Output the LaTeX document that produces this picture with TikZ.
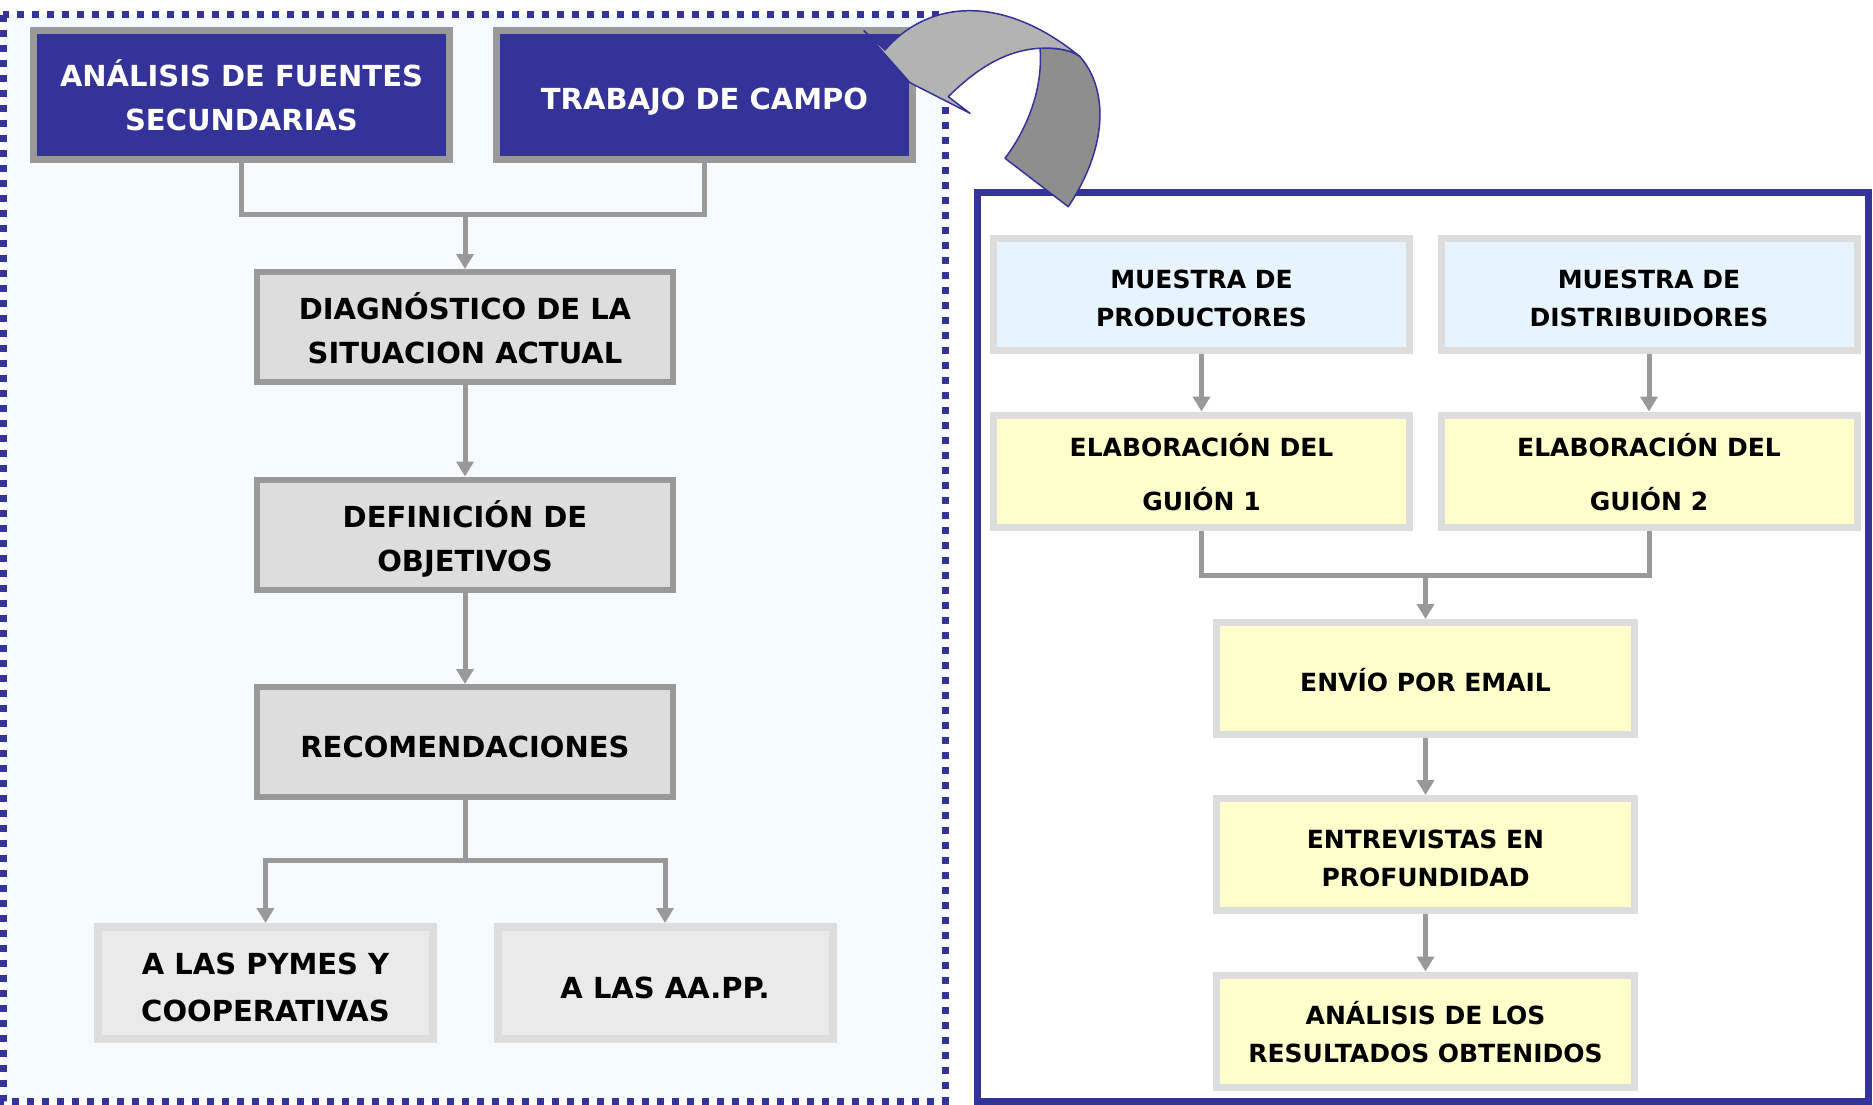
\documentclass[tikz,border=0pt]{standalone}
\usepackage{fontspec}
\setmainfont{DejaVu Sans}
\usetikzlibrary{arrows.meta}

\definecolor{navy}{HTML}{333399}
\definecolor{boxgrey}{HTML}{999999}
\definecolor{pale}{HTML}{DDDDDD}
\definecolor{paler}{HTML}{EAEAEA}
\definecolor{skyfill}{HTML}{E8F4FD}
\definecolor{lemon}{HTML}{FFFFCC}
\definecolor{frame}{HTML}{F5FAFF}
\definecolor{bandlight}{HTML}{B3B3B3}
\definecolor{banddark}{HTML}{8E8E8E}

\tikzstyle{navybox} = [draw=boxgrey, line width=7pt, fill=navy, text=white, minimum width=416pt, minimum height=129pt, align=center, text depth=0pt, text height=72pt, font=\bfseries\fontsize{29}{44}\selectfont]
\tikzstyle{stepbox} = [draw=boxgrey, line width=6pt, fill=pale, minimum width=416pt, minimum height=110pt, align=center, text depth=0pt, text height=73.5pt, font=\bfseries\fontsize{29}{44}\selectfont]
\tikzstyle{endbox} = [draw=pale, line width=8pt, fill=paler, minimum width=335pt, minimum height=112pt, align=center, text depth=0pt, text height=76pt, font=\bfseries\fontsize{29}{47}\selectfont]
\tikzstyle{skybox} = [draw=pale, line width=7pt, fill=skyfill, minimum width=416pt, minimum height=112pt, align=center, text depth=0pt, text height=63.5pt, font=\bfseries\fontsize{25}{38}\selectfont]
\tikzstyle{lemonbox} = [draw=pale, line width=7pt, fill=lemon, minimum width=416pt, minimum height=112pt, align=center, text depth=0pt, text height=63.5pt, font=\bfseries\fontsize{25}{38}\selectfont]
\tikzstyle{oneline} = [text height=31pt]
\tikzstyle{link} = [draw=boxgrey, line width=5pt]
\tikzstyle{flow} = [link, -{Triangle[width=17pt,length=15pt]}]

\begin{document}
\begin{tikzpicture}[x=1pt,y=-1pt]
\useasboundingbox (0,0) rectangle (1873,1105);

% the two frames
\draw[navy, fill=frame, line width=7pt, dash pattern=on 7pt off 8pt] (3,15) rectangle (945,1101);
\draw[navy, fill=white, line width=7pt] (977,192) rectangle (1868,1101);

% left side
\node[navybox] (fuentes) at (241.5,95) {ANÁLISIS DE FUENTES\\SECUNDARIAS};
\node[navybox, text height=29pt] (campo) at (704.5,95) {TRABAJO DE CAMPO};
\node[stepbox] (diag) at (465,327) {DIAGNÓSTICO DE LA\\SITUACION ACTUAL};
\node[stepbox, text height=74.5pt] (objet) at (465,534.5) {DEFINICIÓN DE\\OBJETIVOS};
\node[stepbox, oneline] (recom) at (465,742) {RECOMENDACIONES};
\node[endbox] (pymes) at (265.5,983) {A LAS PYMES Y\\COOPERATIVAS};
\node[endbox, oneline] (aapp) at (665,983) {A LAS AA.PP.};

\coordinate (j1) at (465,214);
\coordinate (j2) at (465,860);
\draw[link] (fuentes.south) |- (j1) -| (campo.south);
\draw[flow] (j1) -- (diag.north);
\draw[flow] (diag) -- (objet);
\draw[flow] (objet) -- (recom);
\draw[link] (recom.south) -- (j2);
\draw[flow] (j2) -| (pymes.north);
\draw[flow] (j2) -| (aapp.north);

% right side
\node[skybox] (prod) at (1201.5,294.5) {MUESTRA DE\\PRODUCTORES};
\node[skybox] (distr) at (1649,294.5) {MUESTRA DE\\DISTRIBUIDORES};
\node[lemonbox, text height=78.5pt, font=\bfseries\fontsize{25}{54}\selectfont] (guion1) at (1201.5,471) {ELABORACIÓN DEL\\GUIÓN 1};
\node[lemonbox, text height=78.5pt, font=\bfseries\fontsize{25}{54}\selectfont] (guion2) at (1649,471) {ELABORACIÓN DEL\\GUIÓN 2};
\node[lemonbox, minimum width=418pt, text height=25pt] (email) at (1425.5,678.5) {ENVÍO POR EMAIL};
\node[lemonbox, minimum width=418pt] (entrev) at (1425.5,854.5) {ENTREVISTAS EN\\PROFUNDIDAD};
\node[lemonbox, minimum width=418pt] (result) at (1425.5,1031) {ANÁLISIS DE LOS\\RESULTADOS OBTENIDOS};

\coordinate (j3) at (1425.5,575);
\draw[flow] (prod) -- (guion1);
\draw[flow] (distr) -- (guion2);
\draw[link] (guion1.south) |- (j3) -| (guion2.south);
\draw[flow] (j3) -- (email.north);
\draw[flow] (email) -- (entrev);
\draw[flow] (entrev) -- (result);

% curved arrow between the frames
\draw[navy, fill=banddark, line width=1.5pt, line join=round]
  (1040,48.3) .. controls (1060,47) and (1075,52) .. (1080,56.7)
  .. controls (1105,85) and (1112,140) .. (1068.3,206.7)
  -- (1005,158.3)
  .. controls (1030,125) and (1043,85) .. (1040,48.3) -- cycle;
\draw[navy, fill=bandlight, line width=1.5pt, line join=round]
  (864,30.7) -- (910,82.7) -- (970,113.3) -- (948.3,96.7)
  .. controls (975,70) and (1005,50) .. (1040,48.3)
  .. controls (1060,47) and (1075,52) .. (1080,56.7)
  .. controls (1005,-5) and (930,-2) .. (885,50) -- cycle;
\end{tikzpicture}
\end{document}
